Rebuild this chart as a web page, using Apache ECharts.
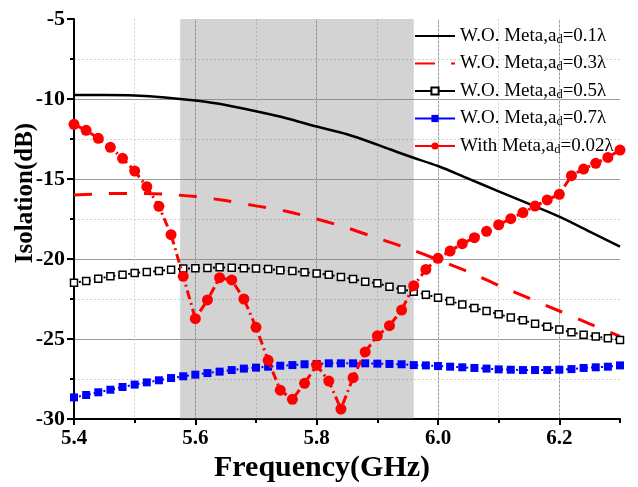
<!DOCTYPE html>
<html>
<head>
<meta charset="utf-8">
<script src="https://cdn.jsdelivr.net/npm/echarts@6/dist/echarts.min.js"></script>
<style>html,body{margin:0;padding:0;background:#fff}#c{width:638px;height:487px}</style>
</head>
<body>
<div id="c"></div>
<script>
// Frequencies (GHz) for marker series, 0.02 GHz step
const freqFine = [5.40,5.42,5.44,5.46,5.48,5.50,5.52,5.54,5.56,5.58,5.60,5.62,5.64,5.66,5.68,5.70,5.72,5.74,5.76,5.78,5.80,5.82,5.84,5.86,5.88,5.90,5.92,5.94,5.96,5.98,6.00,6.02,6.04,6.06,6.08,6.10,6.12,6.14,6.16,6.18,6.20,6.22,6.24,6.26,6.28,6.30];
// Frequencies for smooth (no-marker) curves
const freqCoarse = [5.40,5.45,5.50,5.55,5.60,5.65,5.70,5.75,5.80,5.85,5.90,5.95,6.00,6.05,6.10,6.15,6.20,6.25,6.30];

const woMeta01 = [-9.75,-9.75,-9.78,-9.9,-10.1,-10.38,-10.77,-11.2,-11.72,-12.2,-12.85,-13.55,-14.19,-14.98,-15.77,-16.56,-17.35,-18.29,-19.23];
const woMeta03 = [-16.0,-15.92,-15.9,-15.95,-16.1,-16.35,-16.68,-17.02,-17.5,-18.05,-18.7,-19.33,-20.05,-20.8,-21.65,-22.45,-23.25,-24.05,-24.83];
const woMeta05 = [-21.48,-21.38,-21.23,-21.08,-20.98,-20.88,-20.81,-20.75,-20.67,-20.6,-20.58,-20.56,-20.52,-20.54,-20.58,-20.6,-20.62,-20.71,-20.75,-20.83,-20.9,-20.98,-21.13,-21.25,-21.42,-21.52,-21.73,-21.9,-22.04,-22.23,-22.42,-22.63,-22.85,-23.06,-23.25,-23.46,-23.65,-23.83,-24.04,-24.23,-24.4,-24.58,-24.73,-24.85,-24.96,-25.06];
const woMeta07 = [-28.65,-28.5,-28.33,-28.17,-28.0,-27.85,-27.71,-27.58,-27.44,-27.33,-27.23,-27.13,-27.04,-26.94,-26.85,-26.79,-26.73,-26.67,-26.63,-26.58,-26.56,-26.52,-26.52,-26.52,-26.52,-26.54,-26.56,-26.58,-26.63,-26.65,-26.69,-26.73,-26.77,-26.81,-26.85,-26.9,-26.92,-26.94,-26.94,-26.94,-26.92,-26.88,-26.81,-26.77,-26.73,-26.65];
const withMeta002 = [-11.58,-11.96,-12.46,-13.02,-13.71,-14.5,-15.48,-16.71,-18.48,-21.08,-23.73,-22.56,-21.17,-21.31,-22.5,-24.27,-26.33,-28.2,-28.77,-27.77,-26.64,-27.63,-29.38,-27.42,-25.81,-24.8,-24.17,-23.19,-21.67,-20.65,-19.96,-19.5,-19.04,-18.67,-18.27,-17.86,-17.48,-17.1,-16.69,-16.31,-15.96,-14.79,-14.38,-14.02,-13.65,-13.19];

const seriesNames = ['W.O. Meta,a_d=0.1λ','W.O. Meta,a_d=0.3λ','W.O. Meta,a_d=0.5λ','W.O. Meta,a_d=0.7λ','With Meta,a_d=0.02λ'];
const bandRange = [5.575, 5.96];
const xRange = [5.4, 6.3];
const yRange = [-30, -5];

const zip = (xs, ys) => xs.map((x, i) => [x, ys[i]]);
const serif = "'Liberation Serif','Times New Roman',serif";

const chart = echarts.init(document.getElementById('c'), null, {renderer: 'canvas'});
chart.setOption({
  animation: false,
  backgroundColor: '#fff',
  grid: {left: 74, right: 18, top: 19, bottom: 68, containLabel: false, outerBoundsMode: 'none'},
  legend: {
    orient: 'vertical', left: 409, top: 21,
    itemWidth: 40, itemHeight: 9, itemGap: 7.5,
    textStyle: {fontFamily: serif, fontSize: 19, color: '#000', lineHeight: 20,
      rich: {s: {fontFamily: serif, fontSize: 12.5, color: '#000', lineHeight: 13, verticalAlign: 'bottom'}}},
    formatter: n => n.replace('a_d', 'a{s|d}'),
    data: [
      {name: seriesNames[0], itemStyle: {opacity: 0}},
      {name: seriesNames[1], itemStyle: {opacity: 0}, lineStyle: {type: [20, 16]}},
      {name: seriesNames[2], lineStyle: {type: 'solid'}},
      {name: seriesNames[3], lineStyle: {type: 'solid'}},
      {name: seriesNames[4], lineStyle: {type: 'solid'}}
    ]
  },
  xAxis: [{
    type: 'value', min: xRange[0], max: xRange[1], interval: 0.2,
    name: 'Frequency(GHz)', nameLocation: 'middle', nameGap: 34, nameMoveOverlap: false,
    nameTextStyle: {fontFamily: serif, fontSize: 30, fontWeight: 'bold', color: '#000', padding: [0, 50, 0, 0]},
    axisLine: {show: true, onZero: false, lineStyle: {color: '#000', width: 2}},
    axisTick: {show: true, length: 6, lineStyle: {color: '#000', width: 2}},
    axisLabel: {fontFamily: serif, fontSize: 21, fontWeight: 'bold', color: '#000', margin: 9, showMaxLabel: false,
      formatter: v => v.toFixed(1)},
    splitLine: {show: true, showMinLine: false, showMaxLine: false, lineStyle: {color: '#9a9a9a', width: 1}}
  }, {
    type: 'value', min: xRange[0], max: xRange[1], interval: 0.1, position: 'bottom',
    axisLine: {show: false, onZero: false},
    axisTick: {show: true, length: 4, lineStyle: {color: '#000', width: 2}},
    axisLabel: {show: false},
    splitLine: {show: true, showMinLine: false, showMaxLine: false, lineStyle: {color: '#cfcfcf', width: 1, type: [2, 2]}}
  }],
  yAxis: {
    type: 'value', min: yRange[0], max: yRange[1], interval: 5,
    name: 'Isolation(dB)', nameLocation: 'middle', nameGap: 36, nameMoveOverlap: false,
    nameTextStyle: {fontFamily: serif, fontSize: 25, fontWeight: 'bold', color: '#000', padding: [0, 0, 0, 52]},
    axisLine: {show: true, onZero: false, lineStyle: {color: '#000', width: 2}},
    axisTick: {show: true, length: 7, lineStyle: {color: '#000', width: 2}},
    minorTick: {show: true, splitNumber: 2, length: 4, lineStyle: {color: '#000', width: 2}},
    axisLabel: {fontFamily: serif, fontSize: 22, fontWeight: 'bold', color: '#000', margin: 9},
    splitLine: {show: true, showMinLine: false, showMaxLine: false, lineStyle: {color: '#9a9a9a', width: 1}},
    minorSplitLine: {show: true, lineStyle: {color: '#cfcfcf', width: 1, type: [2, 2]}}
  },
  series: [
    {
      name: seriesNames[0], type: 'line', xAxisIndex: 0, data: zip(freqCoarse, woMeta01),
      smooth: 0.3, showSymbol: false, symbol: 'none', color: '#000',
      lineStyle: {color: '#000', width: 2.5}, z: 3,
      markArea: {silent: true, itemStyle: {color: 'rgba(128,128,128,0.35)'},
        data: [[{xAxis: bandRange[0]}, {xAxis: bandRange[1]}]]}
    },
    {
      name: seriesNames[1], type: 'line', xAxisIndex: 0, data: zip(freqCoarse, woMeta03),
      smooth: 0.3, symbol: 'none', color: '#ff0000',
      lineStyle: {color: '#ff0000', width: 3, type: [18, 17]}, z: 3
    },
    {
      name: seriesNames[2], type: 'line', xAxisIndex: 0, data: zip(freqFine, woMeta05),
      symbol: 'rect', symbolSize: 7, color: '#000',
      itemStyle: {color: '#fff', borderColor: '#000', borderWidth: 1.5},
      lineStyle: {color: '#000', width: 2, type: [2, 3]}, z: 4
    },
    {
      name: seriesNames[3], type: 'line', xAxisIndex: 0, data: zip(freqFine, woMeta07),
      symbol: 'rect', symbolSize: 8, color: '#0000ff',
      itemStyle: {color: '#0000ff'},
      lineStyle: {color: '#0000ff', width: 2, type: [2, 3]}, z: 4
    },
    {
      name: seriesNames[4], type: 'line', xAxisIndex: 0, data: zip(freqFine, withMeta002),
      symbol: 'circle', symbolSize: 11, color: '#ff0000',
      itemStyle: {color: '#ff0000'},
      lineStyle: {color: '#ff0000', width: 3, type: [9, 4, 2, 4]}, z: 5
    }
  ]
});
</script>
</body>
</html>
